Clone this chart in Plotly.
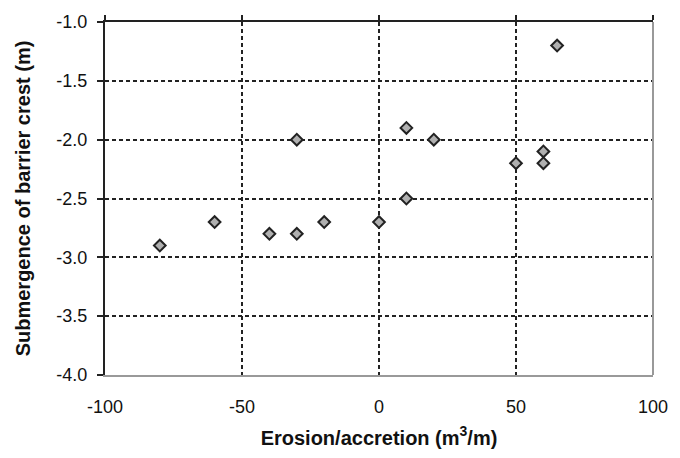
import plotly.graph_objects as go

x_vals = [-80, -60, -40, -30, -30, -20, 0, 10, 10, 20, 50, 60, 60, 65]
y_vals = [-2.9, -2.7, -2.8, -2.8, -2.0, -2.7, -2.7, -1.9, -2.5, -2.0, -2.2, -2.1, -2.2, -1.2]
x_ticks = [-100, -50, 0, 50, 100]
y_ticks = [-4.0, -3.5, -3.0, -2.5, -2.0, -1.5, -1.0]

fig = go.Figure()
fig.add_trace(go.Scatter(
    x=x_vals, y=y_vals, mode="markers",
    marker=dict(symbol="diamond", size=9, color="#b0b0b0",
                line=dict(color="#222222", width=2)),
    showlegend=False))
# invisible trace on top axis for tick marks
fig.add_trace(go.Scatter(x=[-100], y=[-1.0], xaxis="x2", mode="markers",
                         marker=dict(opacity=0), showlegend=False, hoverinfo="skip"))

font = dict(family="Liberation Sans, Arial, sans-serif", size=18, color="#111111")

fig.update_layout(
    width=680, height=458,
    margin=dict(l=105, r=26, t=20, b=80),
    paper_bgcolor="white", plot_bgcolor="white",
    font=font,
    xaxis=dict(range=[-100, 100], tickvals=x_ticks, ticktext=[str(v) for v in x_ticks],
               showgrid=True, gridcolor="#222222", griddash="4px,3px", gridwidth=1.5,
               zeroline=False, showline=True, linecolor="#999999", linewidth=2,
               mirror=False, ticks="", ticklabelstandoff=14,
               title=dict(text="<b>Erosion/accretion (m<sup>3</sup>/m)</b>", standoff=15,
                          font=dict(size=20))),
    xaxis2=dict(range=[-100, 100], overlaying="x", side="top", tickvals=x_ticks,
                showticklabels=False, ticks="outside", ticklen=5, tickcolor="#222222",
                tickwidth=2, showline=True, linecolor="#222222", linewidth=2,
                showgrid=False, zeroline=False),
    yaxis=dict(range=[-4.0, -1.0], tickvals=y_ticks, ticktext=["%.1f" % v for v in y_ticks],
               showgrid=True, gridcolor="#222222", griddash="4px,3px", gridwidth=1.5,
               zeroline=False, showline=True, linecolor="#222222", linewidth=2,
               ticks="outside", ticklen=6, tickcolor="#222222", tickwidth=2,
               ticklabelstandoff=6,
               title=dict(text="<b>Submergence of barrier crest (m)</b>", standoff=20,
                          font=dict(size=20))),
    shapes=[dict(type="line", xref="paper", yref="paper", x0=1, x1=1, y0=0, y1=1,
                 line=dict(color="#999999", width=2))],
)

fig.write_html("out.html")
